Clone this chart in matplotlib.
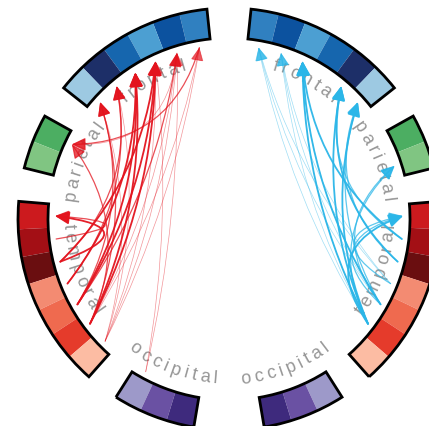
import numpy as np
import matplotlib
matplotlib.use("Agg")
import matplotlib.pyplot as plt
from matplotlib.patches import Wedge, FancyArrowPatch, ArrowStyle
from matplotlib.path import Path
from matplotlib.textpath import text_to_path
from matplotlib.font_manager import FontProperties

# lobes (same on both hemispheres), node colours from the top of each lobe down
lobes = ["frontal", "parietal", "temporal", "occipital"]
lobe_keys = ["F", "P", "T", "O"]
lobe_sizes = [6, 2, 7, 3]
node_colors = {
    "F": ["#3080c0", "#0c529f", "#4c9fd2", "#1666ae", "#1d2f68", "#9dc9e2"],
    "P": ["#4cae62", "#80c582"],
    "T": ["#cc1a1e", "#a30f15", "#6a0e10", "#f38b72", "#ef6a4f", "#e53b2b", "#fcbca3"],
    "O": ["#9d99c9", "#6a51a3", "#3e2a7d"],
}

# directed edges (source -> target) and weight class, per hemisphere
left_edges = [
    ("T5", "F3", "thick"), ("T5", "F4", "thick"), ("T6", "F3", "thick"),
    ("T6", "F4", "thick"), ("T3", "F3", "thick"), ("T4", "F4", "thick"),
    ("T5", "F2", "mid"), ("T3", "F5", "mid"), ("T6", "F6", "mid"),
    ("T5", "F6", "mid"), ("T4", "F5", "mid"), ("T6", "P1", "mid"),
    ("F1", "P1", "mid"), ("F2", "P1", "thin"),
    ("T3", "T1", "thick"), ("T2", "T1", "mid"),
    ("T7", "F1", "thin"), ("T7", "F2", "thin"), ("T6", "F1", "thin"),
    ("T7", "F3", "thin"), ("T7", "F5", "thin"), ("T7", "F6", "thin"),
    ("O1", "F2", "thin"), ("O1", "F3", "thin"), ("T6", "F2", "thin"),
]
right_edges = [
    ("T6", "F3", "thick"), ("T5", "F3", "thick"), ("T2", "F3", "thick"),
    ("T3", "F5", "thick"), ("T6", "F5", "thick"), ("T6", "F6", "thick"),
    ("T3", "F6", "mid"), ("T5", "P2", "mid"), ("T6", "T1", "thick"),
    ("T4", "T1", "mid"), ("T2", "F5", "mid"), ("T5", "F6", "mid"),
    ("T6", "P2", "mid"), ("T5", "T1", "mid"),
    ("T5", "F1", "thin"), ("T5", "F2", "thin"), ("T6", "F1", "thin"),
    ("T6", "F2", "thin"), ("T4", "F1", "thin"), ("T4", "F2", "thin"),
    ("T5", "F3", "thin"), ("T6", "F3", "thin"),
]
edge_colors = {"left": "#e3141e", "right": "#2bb6e8"}
edge_styles = {"thick": (1.3, 0.95), "mid": (0.9, 0.75), "thin": (0.5, 0.45)}

# geometry (pixels, centre of the ring at image pixel (229, 219))
W, H = 429, 426
CX, CY = 229, 219
R_OUT, R_IN = 211, 181
R_TIP = 174
R_TXT = 160
NODE_W, GAP, START = 7.6, 9.2, 6.0

node_angle = {}
lobe_span = {}
a = START
for key, n in zip(lobe_keys, lobe_sizes):
    lobe_span[key] = (a, a + n * NODE_W)
    for i in range(n):
        node_angle[f"{key}{i + 1}"] = a + (i + 0.5) * NODE_W
    a += n * NODE_W + GAP


def math_deg(ang, side):
    # angle from the top, left hemisphere counter-clockwise, right clockwise
    return 90 + ang if side == "left" else 90 - ang


def pos(ang, side, r):
    t = np.deg2rad(math_deg(ang, side))
    return np.array([r * np.cos(t), r * np.sin(t)])


fig = plt.figure(figsize=(W / 100, H / 100), dpi=100)
ax = fig.add_axes([0, 0, 1, 1])
ax.set_xlim(-CX, W - CX)
ax.set_ylim(-(H - CY), CY)
ax.axis("off")

for side in ["left", "right"]:
    for key, n in zip(lobe_keys, lobe_sizes):
        for i in range(n):
            c = node_angle[f"{key}{i + 1}"]
            t1, t2 = sorted([math_deg(c - NODE_W / 2, side), math_deg(c + NODE_W / 2, side)])
            ax.add_patch(Wedge((0, 0), R_OUT, t1, t2, width=R_OUT - R_IN,
                               facecolor=node_colors[key][i], edgecolor="none", zorder=3))
        s0, s1 = lobe_span[key]
        t1, t2 = sorted([math_deg(s0, side), math_deg(s1, side)])
        ax.add_patch(Wedge((0, 0), R_OUT, t1, t2, width=R_OUT - R_IN,
                           facecolor="none", edgecolor="black", lw=2.0, zorder=4))

# lobe names written along the inner side of the ring
fp = FontProperties(family="Liberation Sans", size=13)
TRACK = 3.6
for side in ["left", "right"]:
    for name, key in zip(lobes, lobe_keys):
        s0, s1 = lobe_span[key]
        thc = math_deg((s0 + s1) / 2 - (3 if key == "T" else 0), side)
        rot0 = (thc - 90 + 180) % 360 - 180
        flip = not (-90 <= rot0 <= 90)
        direction = 1 if flip else -1
        widths = [text_to_path.get_text_width_height_descent(ch, fp, ismath=False)[0] * 100 / 72
                  for ch in name]
        adv = np.array(widths) + TRACK
        centres = np.cumsum(adv) - adv / 2 - adv.sum() / 2
        for ch, s in zip(name, centres):
            th = thc + direction * np.rad2deg(s / R_TXT)
            rb = R_TXT + (5 if flip else -5)
            x, y = rb * np.cos(np.deg2rad(th)), rb * np.sin(np.deg2rad(th))
            rot = th + 90 if flip else th - 90
            rot = (rot + 180) % 360 - 180
            ax.text(x, y, ch, fontproperties=fp, color="#969696", rotation=rot,
                    rotation_mode="anchor", ha="center", va="baseline", zorder=1)

# connections as quadratic curves bent towards the centre
arrow = ArrowStyle("-|>", head_length=0.6, head_width=0.28)
for side, edges in [("left", left_edges), ("right", right_edges)]:
    for src, dst, w in edges:
        p0 = pos(node_angle[src], side, R_TIP)
        p1 = pos(node_angle[dst], side, R_TIP)
        chord = np.linalg.norm(p1 - p0)
        k = 0.4 + 0.3 * min(1.0, chord / 220)
        cp = k * (p0 + p1) / 2
        lw, al = edge_styles[w]
        path = Path([p0, cp, p1], [Path.MOVETO, Path.CURVE3, Path.CURVE3])
        ax.add_patch(FancyArrowPatch(path=path, arrowstyle=arrow, mutation_scale=14,
                                     color=edge_colors[side], lw=lw, alpha=al, zorder=2))

fig.savefig("out.png", dpi=100)
